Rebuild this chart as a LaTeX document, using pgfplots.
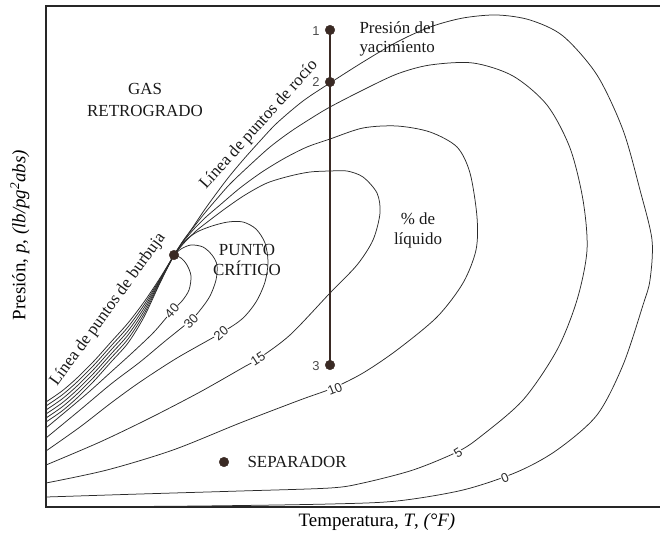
\documentclass[border=0pt]{standalone}
\usepackage{pgfplots}
\pgfplotsset{compat=1.18}
\usepackage{fontspec}
\setmainfont{Liberation Serif}
\newfontfamily\numfont{Liberation Sans}
\definecolor{ln}{HTML}{2A2A2A}
\definecolor{dot}{HTML}{3A2A24}
\tikzset{
  annot/.style={font=\fontsize{17}{20}\selectfont, align=center, text=black!90},
  lbl/.style={font=\numfont\fontsize{13}{13}\selectfont, fill=white, inner sep=0.5pt, text=ln},
}
\pgfplotsset{cv/.style={color=ln, mark=none, line width=0.75bp, smooth, tension=0.5}}
\begin{document}
\begin{tikzpicture}
\begin{axis}[
  scale only axis, width=614bp, height=501bp,
  xmin=46, xmax=660, ymin=6, ymax=507, y dir=reverse,
  hide axis, clip=false,
]
\coordinate (tl) at (axis cs:0,0);
\coordinate (br) at (axis cs:660,535);
% frame
\draw[line width=1.3bp, black!85] (axis cs:660,6) -- (axis cs:46,6) -- (axis cs:46,507) -- (axis cs:660,507);

% 0 % (dew line)
\addplot[cv] coordinates {(174,255) (183,241) (193,227) (203,212) (213,198) (228,178) (243,160) (260,141) (277,123) (303,101) (330,83) (363,62) (397,42) (430,27) (463,18) (497,15) (530,20) (563,36) (597,75) (623,130) (640,190) (652,240) (650,280) (643,305) (623,365) (597,415) (557,450) (517,472) (463,490) (397,501) (330,504) (200,506) (46,507)};
% 5 %
\addplot[cv] coordinates {(174,255) (183,241) (193,228) (204,214) (215,201) (230,184) (250,165) (270,147) (290,132) (310,119) (330,107) (363,90) (397,74) (430,65) (473,63) (513,76) (547,105) (570,148) (583,200) (587,250) (577,300) (557,350) (523,400) (480,437) (457,452) (413,470) (363,483) (330,488) (240,491) (140,494) (46,497)};
% 10 %
\addplot[cv] coordinates {(174,255) (183,242) (194,229) (206,217) (220,205) (240,188) (262,172) (285,158) (307,147) (330,139) (363,128) (397,126) (430,132) (457,147) (470,173) (477,217) (476,250) (463,283) (437,317) (397,350) (363,373) (333,388) (300,400) (240,423) (173,450) (107,470) (46,483)};
% 15 %
\addplot[cv] coordinates {(174,255) (184,243) (196,231) (210,220) (226,208) (245,195) (267,183) (290,176) (310,172) (330,171) (347,171) (363,177) (377,193) (380,213) (373,240) (357,265) (330,293) (290,335) (258,359) (244,367) (200,392) (150,418) (100,442) (46,465)};
% 20 %
\addplot[cv] coordinates {(174,255) (185,241) (197,232) (212,226) (228,222) (243,222) (256,229) (265,243) (268,262) (265,282) (256,302) (242,319) (221,333) (177,358) (140,382) (111,403) (80,427) (46,451)};
% 30 %
\addplot[cv] coordinates {(174,255) (181,249) (191,245) (203,247) (212,255) (217,265) (216,280) (210,296) (201,309) (191,320) (164,342) (140,362) (111,384) (80,410) (46,438)};
% 40 %
\addplot[cv] coordinates {(174,255) (181,258) (187,265) (191,276) (189,290) (182,301) (172,311) (154,332) (132,353) (111,372) (90,391) (70,408) (46,428)};
% bubble bundle (100 ... 50 %)
\addplot[cv] coordinates {(174,255) (160,278) (144,302) (128,323) (111,342) (94,361) (77,378) (62,391) (46,402)};
\addplot[cv] coordinates {(174,255) (160,279) (144,305) (128,327) (111,346) (94,365) (77,382) (62,395) (46,406)};
\addplot[cv] coordinates {(174,255) (160,280) (144,308) (128,331) (111,350) (94,369) (77,386) (62,399) (46,410)};
\addplot[cv] coordinates {(174,255) (160,281) (144,311) (128,335) (111,354) (94,373) (77,390) (62,403) (46,414)};
\addplot[cv] coordinates {(174,255) (160,282) (144,314) (128,339) (111,358) (94,377) (77,394) (62,407) (46,418)};
\addplot[cv] coordinates {(174,255) (160,283) (144,317) (128,343) (111,362) (94,381) (77,398) (62,411) (46,422)};

% reservoir path
\addplot[line width=1.8bp, color=dot, sharp plot, mark=none] coordinates {(330,30) (330,365)};
\addplot[only marks, mark=*, mark size=4.8bp, color=dot] coordinates {(330,30) (330,82) (330,365) (174,255) (224,462)};

% curve labels
\node[lbl, rotate=23] at (axis cs:505,478) {0};
\node[lbl, rotate=32] at (axis cs:458,453) {5};
\node[lbl, rotate=22] at (axis cs:335,389) {10};
\node[lbl, rotate=33] at (axis cs:258,359) {15};
\node[lbl, rotate=40] at (axis cs:221,333) {20};
\node[lbl, rotate=45] at (axis cs:191,321) {30};
\node[lbl, rotate=48] at (axis cs:172,311) {40};

% point labels
\node[font=\numfont\fontsize{13}{13}\selectfont, text=black!70] at (axis cs:316,31) {1};
\node[font=\numfont\fontsize{13}{13}\selectfont, text=black!70] at (axis cs:316,82) {2};
\node[font=\numfont\fontsize{13}{13}\selectfont, text=black!70] at (axis cs:316,366) {3};

% annotations
\node[annot, font=\fontsize{17}{22}\selectfont] at (axis cs:145,100) {GAS\\RETROGRADO};
\node[annot, anchor=west, align=left, font=\fontsize{17}{19}\selectfont] at (axis cs:356,39) {Presión del\\yacimiento};
\node[annot] at (axis cs:418,230) {\% de\\líquido};
\node[annot] at (axis cs:247,260) {PUNTO\\CRÍTICO};
\node[annot, anchor=west] at (axis cs:244,462) {SEPARADOR};
\node[annot, rotate=48] at (axis cs:259,125) {Línea de puntos de rocío};
\node[annot, rotate=54] at (axis cs:108,310) {Línea de puntos de burbuja};

% axis labels
\node[font=\fontsize{19}{19}\selectfont, rotate=90] at (axis cs:20,235) {Presión, \textit{p}, \textit{(lb/pg\textsuperscript{2}abs)}};
\node[font=\fontsize{19}{19}\selectfont] at (axis cs:377,522) {Temperatura, \textit{T}, \textit{(°F)}};
\end{axis}
\pgfresetboundingbox
\path[use as bounding box] (tl) rectangle (br);
\end{tikzpicture}
\end{document}
